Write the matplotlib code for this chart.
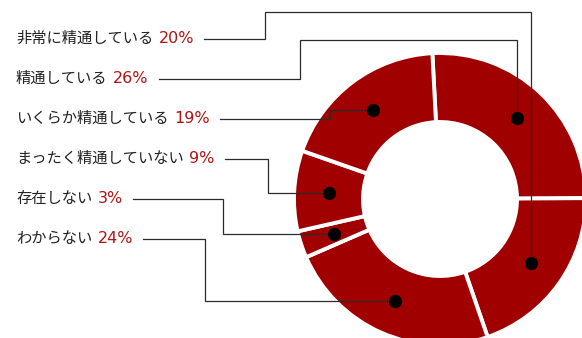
import math
import matplotlib
matplotlib.use("Agg")
import matplotlib.pyplot as plt

plt.rcParams["font.family"] = ["Noto Sans CJK JP", "DejaVu Sans"]

labels = ["非常に精通している", "精通している", "いくらか精通している",
          "まったく精通していない", "存在しない", "わからない"]
shares = [20, 26, 19, 9, 3, 24]
# order of the answers around the ring, clockwise from 12 o'clock
ring_order = [1, 0, 5, 4, 3, 2]

RED = "#a00000"
PCT_RED = "#b01414"
INK = "#222222"
LINE = "#2a2a2a"
W, H = 582, 338

fig = plt.figure(figsize=(W / 100, H / 100), dpi=100)
ax = fig.add_axes([0, 0, 1, 1])

# donut, pixel-like coordinates (y grows downward)
cx, cy, R, ring = 440, 199, 146, 69
vals = [shares[i] for i in ring_order]
wedges, _ = ax.pie(vals, center=(cx, cy), radius=R, startangle=-93,
                   counterclock=True, colors=[RED] * len(vals), frame=True,
                   wedgeprops=dict(width=ring, edgecolor="white", linewidth=2.8))
ax.set_xlim(0, W); ax.set_ylim(H, 0)
ax.axis("off")

# anchor dot in the middle of each wedge
r_mid = R - ring / 2
dots = {}
for k, w in zip(ring_order, wedges):
    t = math.radians((w.theta1 + w.theta2) / 2)
    dots[k] = (cx + r_mid * math.cos(t), cy + r_mid * math.sin(t))

row_top, row_step, text_x = 38.5, 40, 16
elbow_x = [265, 300, 330, 268, 223, 205]
over_y = {0: 12, 1: 40}   # leaders that run over the top of the ring

texts = []
for i, (lab, v) in enumerate(zip(labels, shares)):
    y = row_top + i * row_step
    t = ax.text(text_x, y, lab, va="center", ha="left", fontsize=11, color=INK)
    p = ax.annotate(f"{v}%", xy=(1, 0.5), xycoords=t, xytext=(4, 0),
                    textcoords="offset points", va="center", ha="left",
                    fontsize=11.5, color=PCT_RED, family="DejaVu Sans")
    texts.append((y, p))

fig.canvas.draw()
inv = ax.transData.inverted()
for i, (y, p) in enumerate(texts):
    bb = p.get_window_extent()
    x0 = inv.transform((bb.x1, bb.y0))[0] + 10
    dx, dy = dots[i]
    ex = elbow_x[i]
    if i in over_y:
        pts = [(x0, y), (ex, y), (ex, over_y[i]), (dx, over_y[i]), (dx, dy)]
    else:
        pts = [(x0, y), (ex, y), (ex, dy), (dx, dy)]
    xs, ys = zip(*pts)
    ax.plot(xs, ys, color=LINE, lw=0.9, zorder=3, solid_joinstyle="miter")
    ax.plot(dx, dy, "o", color="black", ms=8.5, zorder=4)

fig.savefig("out.png", dpi=100)
